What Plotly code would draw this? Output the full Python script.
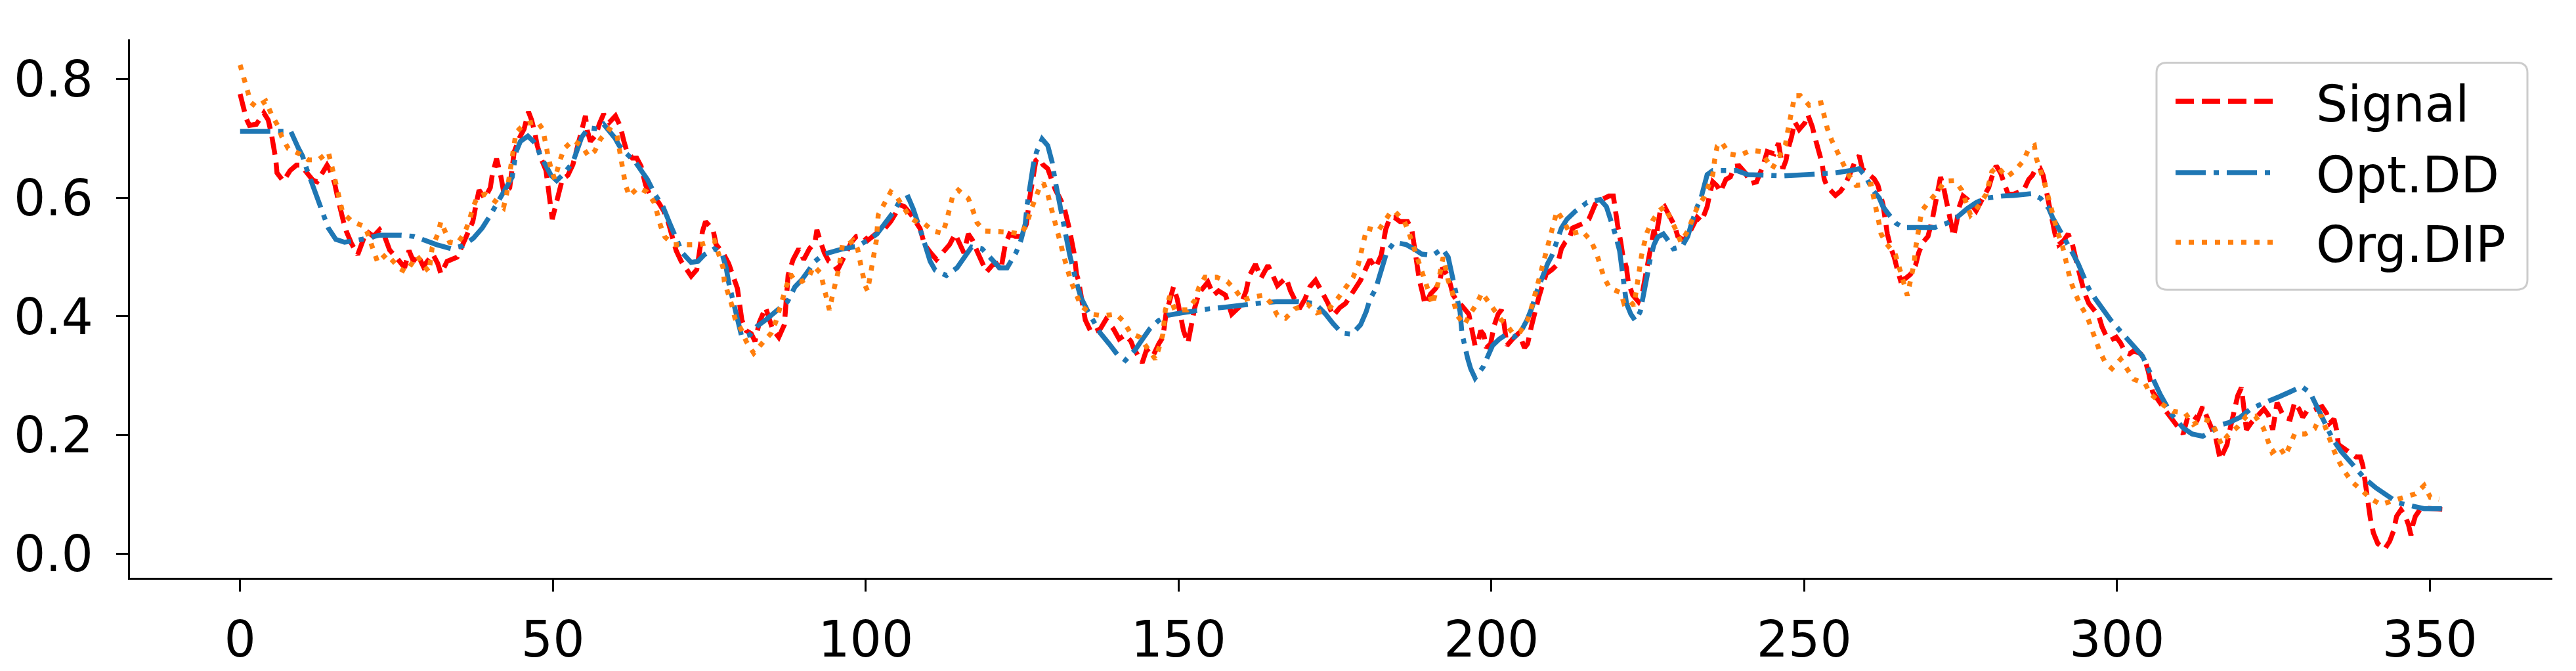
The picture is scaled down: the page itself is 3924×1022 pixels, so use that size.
import plotly.graph_objects as go

# values (x = sample index, y = amplitude)
signal_x = [0.0, 0.5, 1.0, 1.5, 2.6, 3.8, 4.5, 5.0, 5.4, 5.7, 5.9, 6.9, 8.0, 9.0, 9.7, 10.8, 11.6, 12.3, 13.2, 13.9,
            14.4, 15.1, 15.6, 16.0, 16.5, 17.0, 17.8, 18.8, 19.5, 20.2, 21.3, 22.3, 23.2, 23.9, 25.1, 26.3, 27.0, 27.7,
            28.4, 29.3, 30.8, 31.6, 32.1, 33.1, 34.7, 35.6, 36.4, 37.2, 37.7, 38.2, 39.1, 40.0, 40.3, 41.0, 41.7, 42.2,
            43.1, 43.8, 44.7, 45.4, 46.1, 46.6, 47.1, 47.5, 48.2, 48.9, 49.2, 49.4, 49.9, 50.4, 51.0, 51.5, 52.4, 53.2,
            53.8, 54.6, 55.2, 55.5, 56.0, 56.9, 57.4, 58.1, 59.0, 60.0, 60.8, 61.3, 61.8, 62.7, 63.4, 64.1, 64.8, 65.5,
            66.9, 67.7, 68.4, 69.7, 70.5, 72.1, 73.0, 73.5, 73.9, 74.4, 75.6, 76.1, 77.2, 78.1, 78.8, 79.5, 80.2, 80.9,
            81.7, 82.3, 83.0, 84.0, 85.1, 86.1, 87.0, 87.6, 88.4, 89.3, 90.1, 91.0, 91.9, 92.2, 92.8, 93.4, 94.1, 94.8,
            95.5, 96.4, 97.7, 98.5, 99.6, 100.3, 101.7, 103.1, 104.0, 104.8, 105.5, 106.2, 107.3, 108.7, 109.4, 110.4,
            111.3, 112.5, 113.4, 114.3, 115.0, 115.7, 116.4, 117.1, 117.8, 118.6, 119.3, 120.2, 120.9, 121.6, 122.3,
            123.0, 123.9, 124.8, 125.7, 126.2, 126.7, 127.2, 127.7, 128.3, 129.1, 129.8, 130.3, 131.0, 131.7, 132.5,
            133.3, 133.7, 134.0, 135.1, 136.1, 137.5, 138.4, 139.6, 140.5, 141.5, 142.4, 142.8, 144.2, 144.9, 145.9,
            146.9, 147.5, 148.0, 148.7, 149.2, 149.8, 150.3, 150.8, 151.5, 152.1, 152.6, 153.3, 154.7, 155.6, 156.4,
            157.5, 158.5, 159.9, 160.8, 161.3, 162.3, 163.2, 164.3, 165.0, 165.8, 167.2, 167.9, 169.3, 170.2, 171.0,
            171.9, 173.0, 173.9, 174.7, 175.8, 176.7, 177.9, 179.1, 180.0, 180.6, 181.5, 182.4, 182.7, 183.1, 183.8,
            184.5, 185.4, 186.6, 187.3, 187.6, 188.2, 188.5, 189.0, 189.4, 190.3, 191.1, 191.7, 192.2, 193.1, 193.9,
            194.6, 195.3, 196.4, 196.9, 197.4, 197.8, 198.3, 198.8, 199.2, 199.9, 200.4, 201.1, 201.6, 202.0, 202.5,
            203.4, 204.4, 205.3, 205.8, 206.4, 206.9, 207.6, 208.3, 208.8, 209.7, 210.4, 210.7, 211.2, 211.8, 212.5,
            213.0, 213.9, 214.7, 215.6, 216.6, 217.5, 218.8, 219.5, 219.8, 220.2, 220.7, 221.0, 221.6, 221.9, 222.6,
            223.5, 224.2, 224.9, 225.4, 226.0, 226.3, 227.0, 227.7, 228.6, 229.3, 229.8, 230.8, 231.9, 232.9, 233.6,
            234.5, 234.9, 235.4, 236.1, 236.6, 237.5, 238.2, 238.9, 239.6, 240.6, 241.5, 242.4, 243.4, 244.1, 245.2,
            245.9, 246.6, 247.1, 247.4, 248.0, 248.5, 249.2, 250.1, 250.6, 251.3, 251.8, 252.3, 252.9, 253.2, 253.7,
            254.1, 255.0, 255.8, 256.5, 257.4, 258.1, 258.8, 259.3, 260.4, 261.2, 261.8, 262.6, 263.0, 263.3, 263.9,
            264.4, 264.9, 265.4, 266.2, 267.0, 267.8, 268.3, 269.0, 269.8, 270.5, 270.9, 271.4, 271.8, 272.3, 272.8,
            273.3, 273.9, 274.4, 274.7, 275.4, 276.1, 276.7, 277.5, 278.4, 279.5, 280.0, 280.7, 281.4, 282.1, 282.6,
            283.5, 285.1, 285.9, 286.5, 287.0, 287.7, 288.2, 288.7, 289.1, 289.6, 290.1, 290.7, 291.5, 292.2, 292.9,
            293.6, 294.3, 294.8, 295.5, 296.4, 297.1, 297.6, 298.2, 299.0, 299.9, 300.6, 301.3, 302.0, 302.7, 303.8,
            304.5, 305.0, 305.3, 305.7, 307.5, 309.0, 310.6, 311.3, 312.0, 312.9, 313.7, 314.4, 315.1, 315.8, 316.5,
            317.1, 317.6, 317.9, 318.6, 319.3, 319.9, 320.2, 320.7, 321.4, 322.5, 323.5, 324.2, 324.9, 325.6, 326.7,
            327.7, 328.4, 329.1, 329.7, 330.4, 331.2, 331.9, 332.8, 333.5, 334.0, 334.7, 335.1, 335.4, 336.5, 337.3,
            338.2, 338.9, 339.3, 339.8, 340.1, 340.5, 341.0, 341.7, 342.8, 343.6, 344.2, 344.7, 345.4, 346.1, 346.6,
            347.0, 347.3, 347.7, 348.4, 349.1, 350.5, 352.0]
signal_y = [0.775, 0.756, 0.733, 0.722, 0.724, 0.743, 0.731, 0.708, 0.688, 0.665, 0.642, 0.628, 0.646, 0.655, 0.655,
            0.639, 0.630, 0.627, 0.642, 0.655, 0.646, 0.625, 0.600, 0.579, 0.561, 0.543, 0.523, 0.504, 0.525, 0.544,
            0.535, 0.546, 0.532, 0.512, 0.498, 0.482, 0.511, 0.493, 0.504, 0.484, 0.505, 0.489, 0.472, 0.493, 0.500,
            0.521, 0.542, 0.560, 0.588, 0.613, 0.599, 0.617, 0.638, 0.666, 0.635, 0.606,
            0.617, 0.677, 0.702, 0.716, 0.745, 0.731, 0.710, 0.688, 0.664, 0.646, 0.621, 0.603, 0.564, 0.585, 0.610,
            0.631, 0.638, 0.656, 0.681, 0.716, 0.738, 0.713, 0.695, 0.706, 0.724, 0.741, 0.727, 0.738, 0.720, 0.697,
            0.679, 0.667, 0.667, 0.653, 0.622, 0.605, 0.592, 0.578, 0.560, 0.511, 0.493, 0.468, 0.479, 0.514, 0.543,
            0.560, 0.546, 0.521, 0.507, 0.489, 0.468, 0.447, 0.394, 0.376, 0.371, 0.358, 0.390, 0.415, 0.379, 0.365,
            0.386, 0.470,
            0.496, 0.514, 0.496, 0.514, 0.525, 0.546, 0.525, 0.507, 0.493, 0.489, 0.478, 0.496, 0.525, 0.535, 0.537,
            0.528, 0.540, 0.549, 0.560, 0.574, 0.588, 0.585, 0.571, 0.548, 0.521, 0.507, 0.496, 0.510, 0.521, 0.539,
            0.521, 0.507, 0.539, 0.528, 0.510, 0.493, 0.475, 0.486, 0.489, 0.478, 0.521, 0.539, 0.535, 0.535, 0.556,
            0.599, 0.631, 0.663, 0.667, 0.656, 0.649, 0.628, 0.614, 0.600, 0.585, 0.550,
            0.507, 0.471, 0.461, 0.394, 0.372, 0.379, 0.395, 0.379, 0.362, 0.369, 0.358, 0.347, 0.322, 0.344, 0.333,
            0.355, 0.365, 0.404, 0.429, 0.450, 0.429, 0.401, 0.376, 0.355, 0.387, 0.415, 0.440, 0.458, 0.436, 0.443,
            0.436, 0.404, 0.418, 0.443, 0.468, 0.488, 0.465, 0.486, 0.471, 0.452, 0.465, 0.443, 0.413, 0.429, 0.450,
            0.461, 0.440, 0.422, 0.401, 0.415, 0.422,
            0.443, 0.461, 0.482, 0.496, 0.482, 0.503, 0.521, 0.546, 0.567, 0.567, 0.560, 0.560, 0.546, 0.525, 0.482,
            0.461, 0.440, 0.420, 0.438, 0.447, 0.457, 0.482, 0.468, 0.436, 0.425, 0.418, 0.404, 0.379, 0.351, 0.354,
            0.376, 0.369, 0.347, 0.354, 0.383, 0.404, 0.411, 0.390, 0.351, 0.362, 0.372, 0.347, 0.354, 0.383, 0.408,
            0.433, 0.457, 0.472, 0.479, 0.486, 0.493, 0.514, 0.525, 0.532, 0.549, 0.553, 0.557, 0.564, 0.589, 0.596,
            0.603, 0.603, 0.578, 0.553, 0.525, 0.504,
            0.482, 0.457, 0.436, 0.425, 0.443, 0.482, 0.511, 0.546, 0.532, 0.578, 0.585, 0.567, 0.553, 0.535, 0.528,
            0.546, 0.567, 0.560, 0.585, 0.606, 0.627, 0.620, 0.610, 0.631, 0.635, 0.653, 0.654, 0.642, 0.624, 0.627,
            0.653, 0.678, 0.674, 0.692, 0.649, 0.663, 0.681, 0.703, 0.728, 0.715, 0.726, 0.740, 0.720, 0.699, 0.678,
            0.657, 0.632, 0.618, 0.614, 0.604, 0.611, 0.621, 0.642, 0.660, 0.671, 0.649, 0.639, 0.632, 0.621, 0.589,
            0.561, 0.539, 0.514, 0.500, 0.479, 0.461,
            0.464, 0.471, 0.486, 0.507, 0.525, 0.535, 0.564, 0.589, 0.614, 0.635, 0.617, 0.589, 0.564, 0.535, 0.560,
            0.582, 0.603, 0.597, 0.589, 0.578, 0.596, 0.617, 0.635, 0.654, 0.642, 0.617, 0.606, 0.606, 0.613, 0.631,
            0.638, 0.649, 0.650, 0.638, 0.613, 0.596, 0.571, 0.539, 0.521, 0.528, 0.539, 0.521, 0.489, 0.461, 0.440,
            0.422, 0.411, 0.401, 0.383, 0.369, 0.360, 0.365, 0.355, 0.340, 0.337, 0.342, 0.337, 0.326, 0.308, 0.290,
            0.273, 0.245, 0.225,
            0.202, 0.230, 0.234, 0.227, 0.248, 0.230, 0.212, 0.195, 0.159, 0.173, 0.184, 0.202, 0.237, 0.266, 0.280,
            0.251, 0.209, 0.220, 0.234, 0.244, 0.234, 0.209, 0.255, 0.230, 0.227, 0.255, 0.244, 0.230, 0.241, 0.241,
            0.244, 0.248, 0.237, 0.220, 0.227, 0.209, 0.184, 0.177, 0.170, 0.163, 0.163, 0.149, 0.113, 0.081, 0.060,
            0.035, 0.017, 0.008, 0.021, 0.038, 0.063, 0.074, 0.063, 0.049, 0.031, 0.049, 0.063, 0.074, 0.077, 0.076,
            0.075]

optdd_x = [0.0, 5.0, 6.5, 8.1, 9.3, 10.0, 10.6, 11.3, 12.2, 12.9, 13.4, 14.1, 15.3, 16.7, 19.5, 22.3, 25.8, 27.7, 29.6,
           31.4, 33.8, 35.6, 37.3, 38.7, 39.9, 40.8, 42.4, 43.5, 44.1, 44.8, 46.0, 46.9, 47.5, 48.0, 48.9, 49.7, 50.6,
           51.7, 53.2, 53.8, 54.6, 55.7, 57.1, 58.1, 59.2, 59.9, 60.6, 61.6, 63.2, 64.1, 65.1, 66.3, 67.6, 68.6, 69.7,
           70.7, 72.1, 73.2, 74.2, 75.8, 77.0, 77.7, 78.1, 78.6, 79.3, 80.2, 81.5, 82.6, 84.0, 85.1, 86.1, 87.5, 88.7,
           89.8, 90.9, 91.9, 93.3, 94.7, 96.4, 98.5, 100.3, 101.8, 103.1, 104.3, 105.5, 106.8, 107.6, 108.5, 109.0,
           109.6, 110.3, 111.1, 112.9, 114.6, 115.7, 116.9, 118.6, 120.2, 121.4, 122.6, 124.0, 124.8, 125.5, 125.8,
           126.3, 126.8, 127.3, 128.2, 129.1, 129.8, 130.3, 131.0, 131.5, 132.1, 132.6, 133.7, 134.4, 135.4, 136.5,
           137.5, 138.9, 140.2, 141.5, 143.1, 144.2, 145.4, 146.8, 148.4, 150.5, 153.1, 155.0, 157.8, 160.3, 163.4,
           165.8, 169.0, 171.8, 173.5, 174.7, 176.1, 177.7, 179.1, 180.0, 180.6, 181.5, 182.1, 182.6, 183.3, 184.5,
           186.4, 187.6, 188.9, 190.6, 192.2, 193.1, 193.6, 193.9, 194.5, 195.0, 195.3, 195.7, 196.2, 196.7, 197.4,
           198.7, 199.5, 200.2, 201.3, 202.3, 203.6, 204.8, 205.7, 206.5, 207.2, 207.9, 208.4, 209.0, 209.7, 210.4,
           211.2, 212.1, 213.5, 215.3, 217.4, 218.4, 219.1, 219.8, 220.5, 220.9, 221.2, 221.6, 222.3, 223.0, 223.8,
           224.4, 224.9, 225.4, 226.0, 226.6, 227.5, 228.0, 229.1, 230.5, 231.4, 231.9, 232.4, 232.9, 233.5, 234.0,
           234.5, 235.4, 239.2, 241.0, 244.1, 246.6, 250.4, 252.5, 255.0, 257.4, 258.8, 259.9, 260.9, 262.0, 262.6,
           263.3, 264.7, 265.8, 268.5, 270.9, 272.8, 274.4, 276.1, 277.5, 278.9, 280.0, 281.7, 283.5, 285.1, 286.3,
           287.8, 289.1, 289.7, 290.5, 291.2, 291.9, 292.9, 293.8, 294.7, 295.5, 296.6, 297.8, 299.0, 300.4, 301.8,
           303.1, 304.1, 305.0, 305.9, 306.9, 308.7, 310.6, 312.0, 313.7, 314.8, 315.8, 316.9, 317.9, 319.7, 321.4,
           322.8, 324.6, 326.0, 327.7, 329.5, 330.9, 331.8, 332.6, 333.7, 334.5, 335.8, 337.2, 338.4, 339.6, 341.4,
           343.5, 344.9, 347.0, 349.1, 352.0]
optdd_y = [0.712, 0.712, 0.713, 0.712, 0.684, 0.670, 0.650, 0.629, 0.602, 0.585, 0.567, 0.549, 0.530, 0.525, 0.530,
           0.537, 0.537, 0.535, 0.528, 0.521, 0.514, 0.519, 0.532, 0.549, 0.569, 0.585, 0.617, 0.635, 0.677, 0.695,
           0.704, 0.695, 0.686, 0.670, 0.654, 0.638, 0.629, 0.640, 0.660, 0.681, 0.702, 0.718, 0.716, 0.724, 0.711,
           0.701, 0.688, 0.676, 0.660, 0.646, 0.631, 0.606, 0.585, 0.559, 0.532, 0.507, 0.491, 0.493, 0.504, 0.514,
           0.507, 0.482, 0.457, 0.433, 0.401, 0.365, 0.369, 0.383, 0.394, 0.404, 0.415, 0.425, 0.450, 0.462, 0.478,
           0.493, 0.505, 0.510, 0.514, 0.518, 0.528, 0.539, 0.556, 0.574, 0.595, 0.601, 0.581, 0.555, 0.537, 0.517,
           0.493, 0.478, 0.469, 0.482, 0.500, 0.517, 0.514, 0.496, 0.482, 0.482, 0.507, 0.528, 0.556, 0.588, 0.624,
           0.656, 0.677, 0.699, 0.688, 0.660, 0.628, 0.592, 0.560, 0.528, 0.504, 0.457, 0.432, 0.411, 0.392, 0.372,
           0.354, 0.336, 0.326, 0.344, 0.361, 0.379, 0.393, 0.402, 0.406, 0.411, 0.413, 0.416, 0.420, 0.423, 0.425,
           0.425, 0.422, 0.404, 0.388, 0.372, 0.370, 0.386, 0.408, 0.429, 0.446, 0.468, 0.489, 0.509, 0.525, 0.521,
           0.514, 0.505, 0.503, 0.514, 0.500, 0.475, 0.457, 0.436, 0.408, 0.372, 0.351, 0.330, 0.312, 0.296, 0.315,
           0.333, 0.351, 0.362, 0.369, 0.365, 0.376, 0.394, 0.415, 0.440, 0.461, 0.475, 0.489, 0.503, 0.525, 0.549,
           0.564, 0.578, 0.592, 0.597, 0.585, 0.564, 0.539, 0.511, 0.482, 0.464, 0.422, 0.404, 0.393, 0.408, 0.436,
           0.468, 0.497, 0.521, 0.534, 0.539, 0.532, 0.514, 0.518, 0.535, 0.553, 0.571, 0.585, 0.599, 0.621, 0.639,
           0.646, 0.646, 0.639, 0.637, 0.637, 0.639, 0.640, 0.642, 0.646, 0.649, 0.635, 0.614, 0.600, 0.585, 0.575,
           0.557, 0.550, 0.550, 0.550, 0.557, 0.567, 0.582, 0.592, 0.599, 0.601, 0.603, 0.604, 0.606, 0.607, 0.599,
           0.582, 0.567, 0.553, 0.539, 0.526, 0.507, 0.489, 0.466, 0.447, 0.429, 0.411, 0.394, 0.377, 0.361, 0.347,
           0.333, 0.312, 0.291, 0.269, 0.235, 0.212, 0.202, 0.198, 0.204, 0.212, 0.218, 0.221, 0.230, 0.244, 0.251,
           0.258, 0.265, 0.273, 0.282, 0.271, 0.251, 0.234, 0.212, 0.193, 0.173, 0.156, 0.141, 0.127, 0.111, 0.097,
           0.086, 0.081, 0.076, 0.076]

orgdip_x = [0.0, 0.6, 1.1, 1.7, 2.6, 4.1, 5.0, 6.0, 6.7, 7.7, 9.5, 10.9, 12.5, 14.1, 14.6, 15.0, 15.5, 15.9, 16.4, 17.9,
            20.0, 21.3, 22.0, 23.4, 25.6, 26.5, 28.3, 29.5, 30.2, 30.7, 31.6, 32.1, 32.8, 33.5, 34.7, 35.8, 36.6, 37.2,
            37.9, 39.1, 40.8, 42.1, 42.6, 43.4, 44.1, 45.4, 47.5, 48.4, 48.7, 49.2, 49.7, 50.3, 51.1, 51.8, 53.2, 54.6,
            55.7, 56.7, 57.6, 59.0, 60.2, 60.9, 61.3, 61.6, 62.2, 63.6, 65.0, 66.2, 66.7, 67.2, 67.9, 69.3, 71.4, 73.5,
            75.8, 77.2, 77.4, 78.1, 78.6, 79.1, 80.2, 80.9, 82.1, 83.3, 84.9, 85.6, 86.6, 87.3, 88.0, 88.7, 89.8, 90.9,
            91.7, 92.8, 93.3, 93.7, 94.2, 94.7, 95.2, 95.7, 96.3, 97.1, 98.0, 98.7, 99.1, 99.4, 99.9, 100.3, 100.6,
            101.0, 101.3, 101.7, 102.0, 102.9, 104.0, 104.8, 105.9, 107.1, 108.3, 109.4, 110.8, 112.3, 112.9, 113.4,
            113.9, 114.8, 116.4, 117.1, 117.8, 119.0, 120.9, 123.0, 124.8, 125.8, 126.3, 127.0, 127.7, 128.4, 129.1,
            129.6, 130.2, 130.7, 131.2, 131.7, 132.2, 132.8, 133.7, 134.4, 136.1, 137.9, 140.0, 141.2, 142.3, 143.8,
            145.2, 146.3, 147.0, 147.5, 147.9, 148.6, 149.4, 150.5, 151.4, 152.6, 153.3, 154.2, 156.1, 157.8, 159.2,
            160.3, 161.6, 163.6, 164.8, 165.8, 167.1, 168.6, 170.7, 172.1, 173.9, 175.5, 176.5, 177.9, 178.7, 179.2,
            179.8, 180.1, 181.9, 182.9, 183.8, 184.5, 185.4, 186.1, 186.8, 187.5, 188.0, 188.7, 189.4, 190.1, 190.6,
            191.5, 192.3, 193.1, 193.8, 194.1, 194.6, 195.7, 196.6, 197.6, 198.5, 199.7, 200.9, 201.6, 202.3, 203.4,
            204.6, 205.8, 206.5, 207.0, 207.6, 207.9, 208.4, 209.0, 209.5, 210.0, 210.5, 211.6, 212.6, 214.5, 215.9,
            216.8, 217.3, 218.0, 218.9, 220.7, 221.2, 222.1, 222.8, 223.3, 223.7, 224.0, 224.4, 224.9, 225.8, 226.8,
            227.7, 228.7, 229.6, 230.3, 231.5, 232.2, 232.9, 234.0, 234.7, 235.4, 235.7, 236.1, 236.8, 238.0, 239.6,
            241.5, 243.1, 244.9, 246.1, 247.0, 247.3, 247.7, 248.0, 248.5, 249.4, 250.8, 252.7, 253.2, 253.7, 254.4,
            255.3, 256.4, 257.1, 258.3, 259.7, 260.7, 261.1, 261.4, 261.9, 262.3, 263.2, 264.6, 265.3, 265.8, 266.5,
            267.2, 267.6, 267.8, 268.1, 268.5, 268.8, 270.0, 271.3, 272.5, 274.1, 275.2, 275.9, 276.6, 277.8, 279.1,
            280.0, 280.9, 281.6, 282.4, 283.7, 285.1, 285.9, 286.8, 287.1, 287.8, 288.4, 288.9, 289.4, 289.9, 290.5,
            291.2, 291.7, 292.2, 292.6, 293.3, 294.1, 295.2, 295.9, 296.6, 297.3, 298.2, 299.2, 300.6, 301.7, 302.7,
            304.5, 305.3, 307.5, 309.0, 310.9, 312.2, 313.7, 315.1, 316.0, 316.7, 317.6, 319.3, 320.7, 322.1, 323.4,
            324.1, 324.8, 326.0, 326.9, 327.7, 328.4, 330.1, 331.6, 332.6, 333.7, 334.5, 335.2, 336.3, 337.5, 338.9,
            340.7, 342.2, 343.8, 345.9, 347.7, 349.1, 350.1, 351.5]
orgdip_y = [0.824, 0.802, 0.782, 0.761, 0.753, 0.763, 0.741, 0.722, 0.702, 0.683, 0.674, 0.664, 0.664, 0.677, 0.656,
            0.637, 0.614, 0.592, 0.575, 0.560, 0.551, 0.512, 0.491, 0.505, 0.480, 0.475, 0.502, 0.484, 0.475, 0.516,
            0.539, 0.560, 0.544, 0.525, 0.523, 0.539, 0.560, 0.583, 0.601, 0.606, 0.594, 0.583, 0.606, 0.667, 0.710,
            0.724, 0.729, 0.715, 0.694, 0.672, 0.649, 0.631, 0.662, 0.683, 0.697, 0.688, 0.670, 0.679, 0.699, 0.716,
            0.708, 0.669, 0.646, 0.622, 0.603, 0.617, 0.610, 0.592, 0.573, 0.553, 0.534, 0.521, 0.521, 0.521, 0.528,
            0.482, 0.459, 0.438, 0.419, 0.397, 0.376, 0.358, 0.338, 0.353, 0.372, 0.390, 0.429, 0.450, 0.471, 0.460,
            0.459, 0.466, 0.485, 0.473, 0.450, 0.428, 0.411, 0.436, 0.459, 0.480, 0.522, 0.521, 0.528, 0.514, 0.493,
            0.473, 0.452, 0.443, 0.464, 0.485, 0.507, 0.528, 0.571, 0.590, 0.610, 0.604, 0.585, 0.567, 0.558, 0.556,
            0.544, 0.540, 0.560, 0.583, 0.603, 0.613, 0.599, 0.580, 0.558, 0.544, 0.544, 0.542, 0.539, 0.556, 0.576,
            0.595, 0.615, 0.625, 0.606, 0.585, 0.563, 0.544, 0.521, 0.500, 0.478, 0.459, 0.436, 0.418, 0.404, 0.401,
            0.404, 0.392, 0.372, 0.365, 0.344, 0.328, 0.351, 0.370, 0.411, 0.434, 0.411, 0.411, 0.411, 0.427, 0.450,
            0.466, 0.466, 0.459, 0.443, 0.427, 0.432, 0.436, 0.422, 0.402, 0.397, 0.413, 0.420, 0.406, 0.411, 0.431,
            0.447, 0.466, 0.486, 0.507, 0.528, 0.549, 0.544, 0.560, 0.574, 0.578, 0.567, 0.560, 0.542, 0.521, 0.500,
            0.479, 0.461, 0.438, 0.420, 0.457, 0.500, 0.461, 0.440, 0.420, 0.401, 0.386, 0.404, 0.420, 0.440, 0.422,
            0.404, 0.394, 0.388, 0.372, 0.374, 0.394, 0.418, 0.438, 0.459, 0.475, 0.498, 0.518, 0.539, 0.560, 0.578,
            0.560, 0.539, 0.544, 0.528, 0.507, 0.488, 0.466, 0.448, 0.440, 0.422, 0.427, 0.418, 0.459, 0.480, 0.502,
            0.521, 0.542, 0.562, 0.578, 0.585, 0.564, 0.544, 0.525, 0.546, 0.566, 0.583, 0.601, 0.619, 0.639, 0.664,
            0.687, 0.694, 0.674, 0.671, 0.680, 0.678, 0.649, 0.671, 0.689, 0.708, 0.729, 0.751, 0.772, 0.772, 0.756,
            0.760, 0.738, 0.717, 0.697, 0.678, 0.658, 0.639, 0.621, 0.623, 0.623, 0.601, 0.582, 0.561, 0.539, 0.522,
            0.504, 0.482, 0.461, 0.435, 0.471, 0.491, 0.514, 0.535, 0.557, 0.578, 0.594, 0.610, 0.628, 0.629, 0.613,
            0.592, 0.571, 0.585, 0.606, 0.644, 0.653, 0.644, 0.635, 0.646, 0.663, 0.683, 0.688, 0.667, 0.647, 0.626,
            0.606, 0.585, 0.564, 0.542, 0.523, 0.502, 0.480, 0.459, 0.440, 0.420, 0.401, 0.381, 0.360, 0.340, 0.321,
            0.312, 0.328, 0.312, 0.294, 0.287, 0.270, 0.250, 0.240, 0.237, 0.218, 0.227, 0.223, 0.202, 0.184, 0.198,
            0.214, 0.232, 0.232, 0.212, 0.193, 0.171, 0.180, 0.165, 0.184, 0.202, 0.202, 0.211, 0.234, 0.200, 0.179,
            0.161, 0.140, 0.122, 0.108, 0.092, 0.083, 0.088, 0.095, 0.101, 0.115, 0.095, 0.092]

x_ticks = [0, 50, 100, 150, 200, 250, 300, 350]
y_ticks = [0.0, 0.2, 0.4, 0.6, 0.8]
y_tick_labels = ["0.0", "0.2", "0.4", "0.6", "0.8"]

W, H = 3924, 1022
ML, MR, MT, MB = 190, 44, 52, 118
PW, PH = W - ML - MR, H - MT - MB
FONT = "DejaVu Sans"


def px(x):
    return (x - ML) / PW


def py(y):
    return (H - MB - y) / PH


fig = go.Figure()
fig.add_trace(go.Scatter(x=signal_x, y=signal_y, mode="lines", name="Signal",
                         line=dict(color="#ff0000", width=7.5, dash="28px,12px")))
fig.add_trace(go.Scatter(x=optdd_x, y=optdd_y, mode="lines", name="Opt.DD",
                         line=dict(color="#1f77b4", width=7.5, dash="46px,12px,8px,12px")))
fig.add_trace(go.Scatter(x=orgdip_x, y=orgdip_y, mode="lines", name="Org.DIP",
                         line=dict(color="#ff7f0e", width=7.5, dash="8px,12px")))

# hand-drawn legend box (matplotlib style, rounded frame)
x0, x1, y0, y1 = px(3277), px(3842), py(448), py(89)
rx, ry = 16 / PW, 16 / PH
box = (f"M {x0 + rx},{y0} L {x1 - rx},{y0} Q {x1},{y0} {x1},{y0 + ry} "
       f"L {x1},{y1 - ry} Q {x1},{y1} {x1 - rx},{y1} L {x0 + rx},{y1} "
       f"Q {x0},{y1} {x0},{y1 - ry} L {x0},{y0 + ry} Q {x0},{y0} {x0 + rx},{y0} Z")
shapes = [dict(type="path", path=box, xref="paper", yref="paper",
               line=dict(color="#cccccc", width=3), fillcolor="rgba(255,255,255,0.8)", layer="above")]
annotations = []
rows = [("Signal", 150), ("Opt.DD", 263), ("Org.DIP", 373)]
for tr, (label, yy) in zip(fig.data, rows):
    shapes.append(dict(type="line", xref="paper", yref="paper", x0=px(3306), x1=px(3455),
                       y0=py(yy), y1=py(yy), line=dict(color=tr.line.color, width=7.5, dash=tr.line.dash),
                       layer="above"))
    annotations.append(dict(text=label, xref="paper", yref="paper", x=px(3518), y=py(yy + 4),
                            xanchor="left", yanchor="middle", showarrow=False,
                            font=dict(family=FONT, size=76, color="black")))

fig.update_layout(
    width=W, height=H,
    margin=dict(l=ML, r=MR, t=MT, b=MB),
    paper_bgcolor="white", plot_bgcolor="white",
    showlegend=False,
    shapes=shapes, annotations=annotations,
    font=dict(family=FONT, size=76, color="black"),
)
fig.update_xaxes(range=[-17.6, 369.6], tickvals=x_ticks, showgrid=False, zeroline=False,
                 showline=True, linecolor="black", linewidth=3, ticks="outside", ticklen=18,
                 tickwidth=3, tickcolor="black", tickfont=dict(family=FONT, size=76, color="black"),
                 ticklabelstandoff=8)
fig.update_yaxes(range=[-0.0405, 0.867], tickvals=y_ticks, ticktext=y_tick_labels, showgrid=False,
                 zeroline=False, showline=True, linecolor="black", linewidth=3, ticks="outside",
                 ticklen=18, tickwidth=3, tickcolor="black",
                 tickfont=dict(family=FONT, size=76, color="black"), ticklabelstandoff=20)

fig.write_html("out.html")
